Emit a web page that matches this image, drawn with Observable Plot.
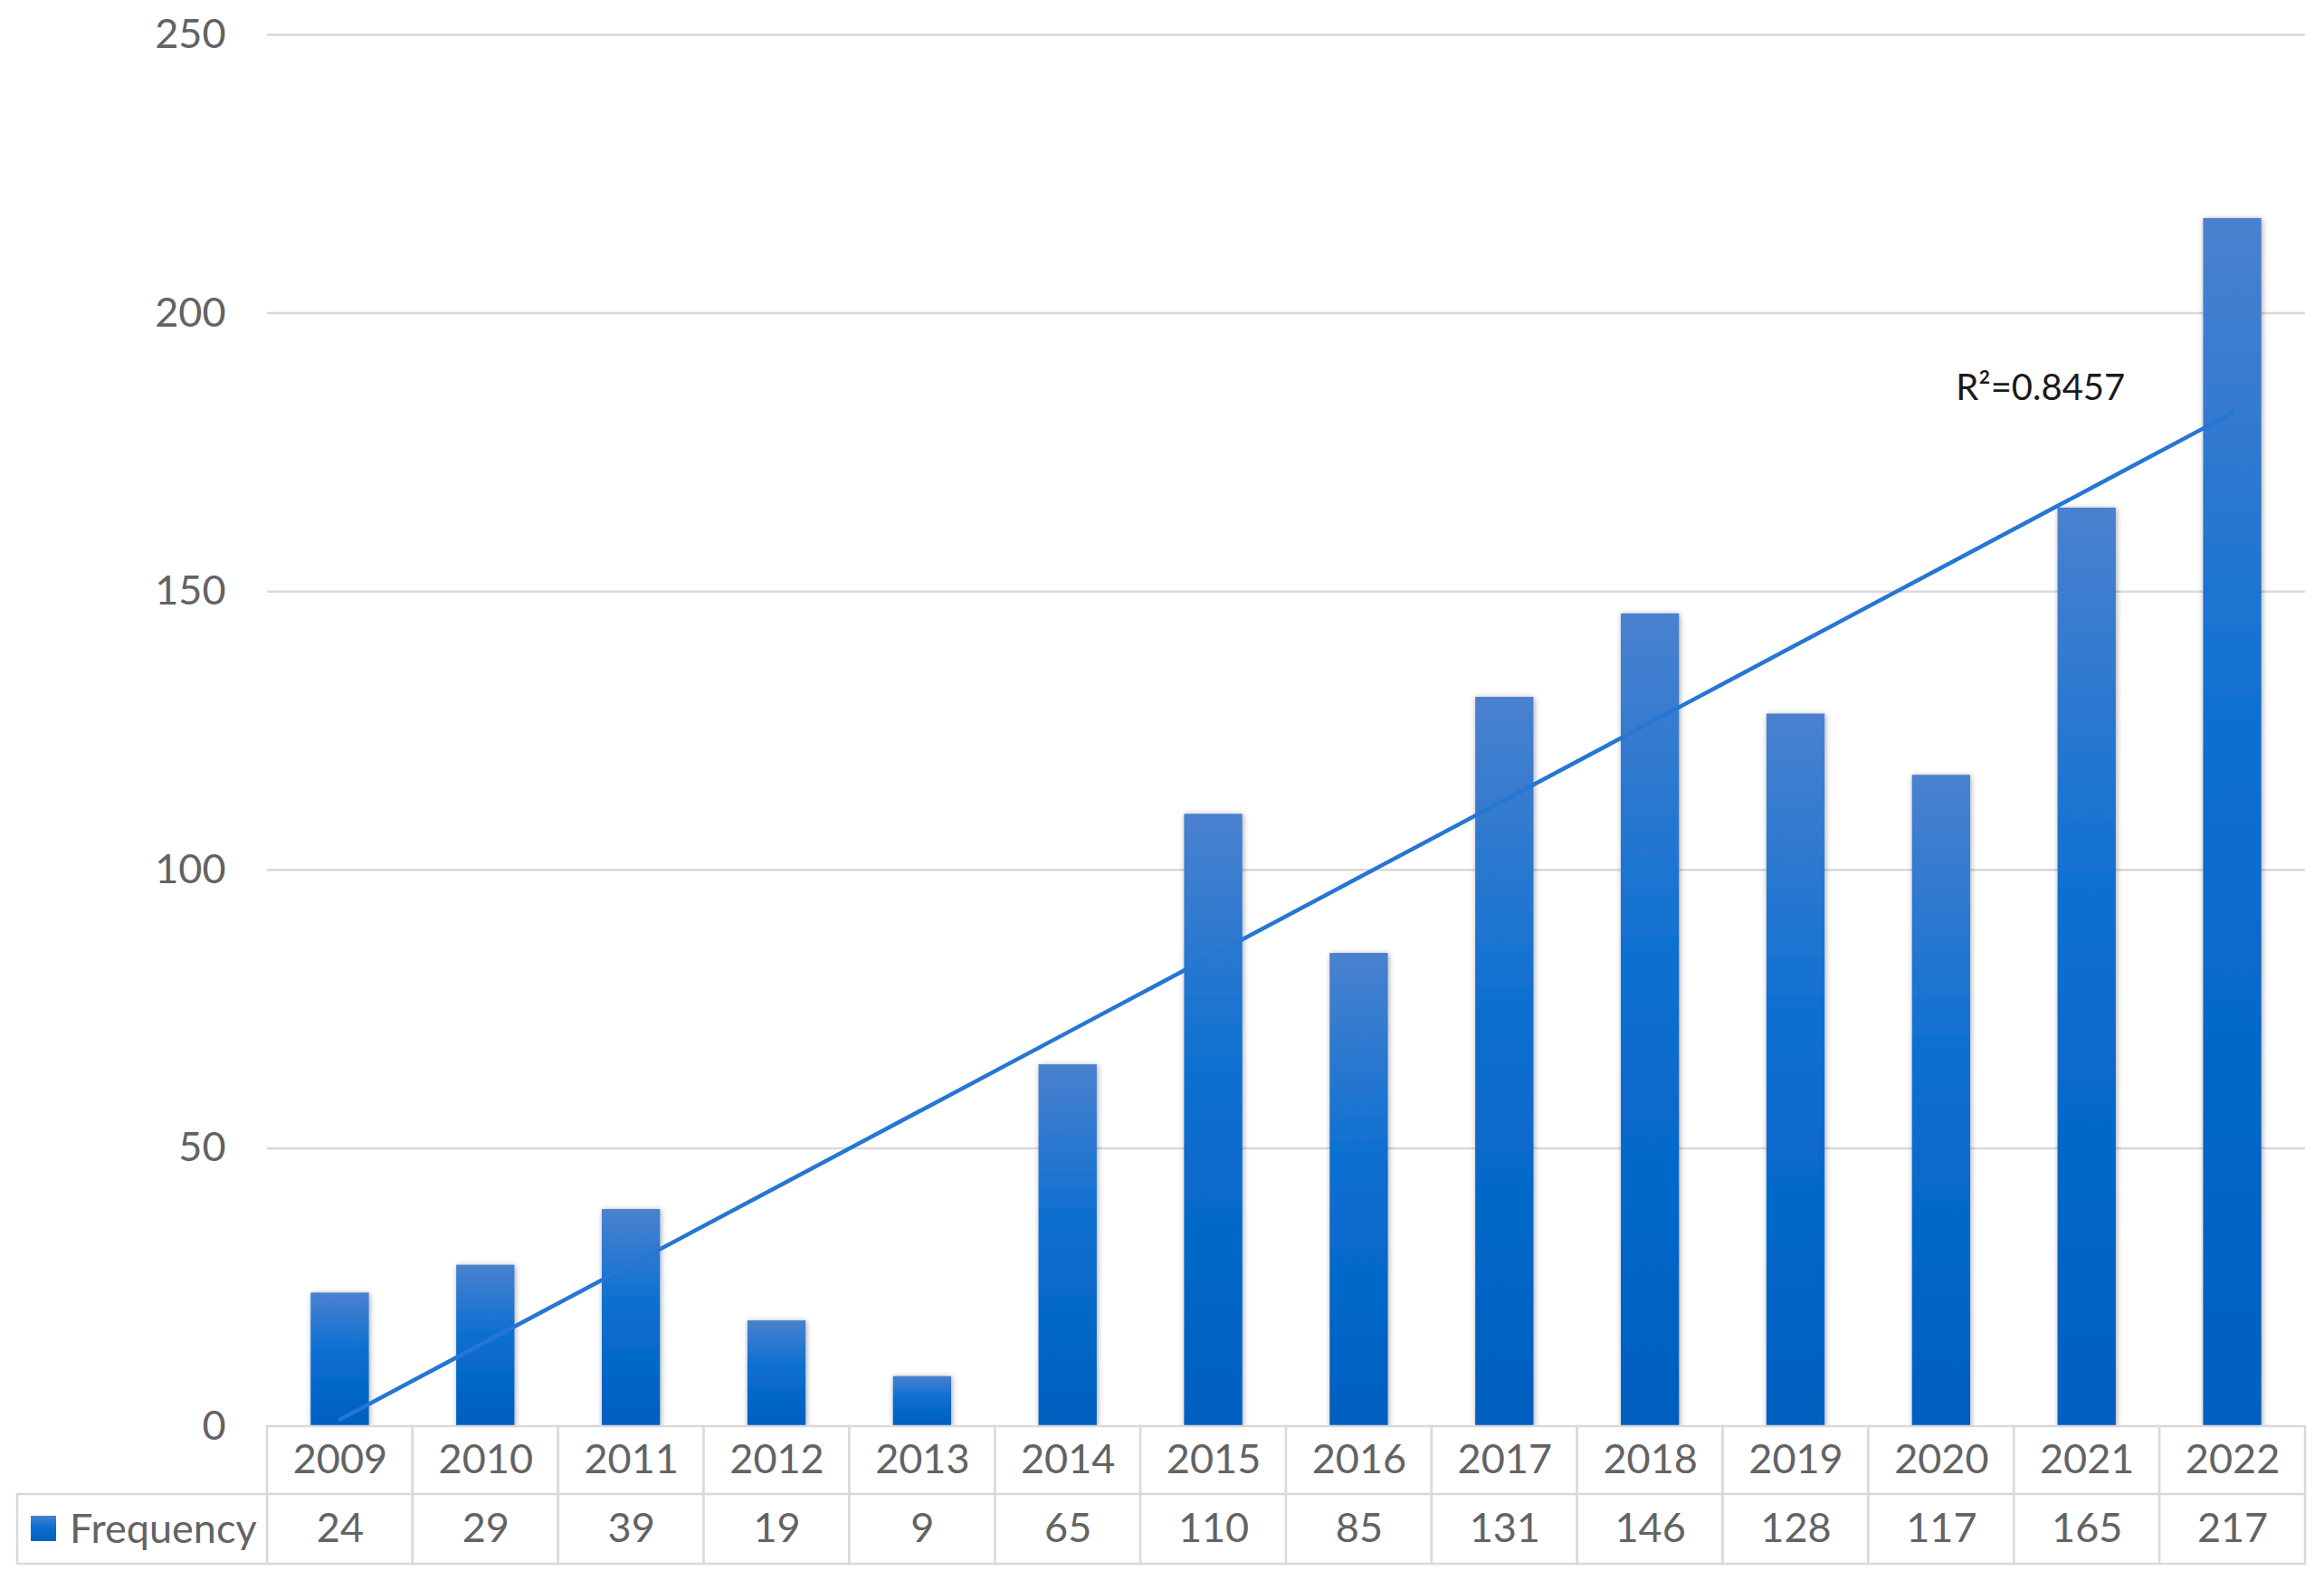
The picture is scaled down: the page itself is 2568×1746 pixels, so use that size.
<!DOCTYPE html>
<html>
<head>
<meta charset="utf-8">
<script src="https://cdn.jsdelivr.net/npm/d3@7"></script>
<script src="https://cdn.jsdelivr.net/npm/@observablehq/plot@0.6"></script>
<style>
  html, body { margin: 0; padding: 0; background: #fff; }
  #chart { width: 2568px; height: 1746px; }
</style>
</head>
<body>
<div id="chart"></div>
<script>
// ---- Data ----
const years = ["2009","2010","2011","2012","2013","2014","2015","2016","2017","2018","2019","2020","2021","2022"];
const frequency = [24, 29, 39, 19, 9, 65, 110, 85, 131, 146, 128, 117, 165, 217];
const yTicks = [0, 50, 100, 150, 200, 250];
const seriesName = "Frequency";
const r2Label = "R²=0.8457";

const data = years.map((year, i) => ({year, value: frequency[i], idx: i}));

// Linear (least-squares) trendline, as in the Excel chart
const mx = d3.mean(data, d => d.idx), my = d3.mean(data, d => d.value);
const slope = d3.sum(data, d => (d.idx - mx) * (d.value - my)) / d3.sum(data, d => (d.idx - mx) ** 2);
const intercept = my - slope * mx;
const trend = data.map(d => ({year: d.year, fit: intercept + slope * d.idx}));

// ---- Layout ----
const W = 2568, H = 1746;
const ML = 295, MR = 21, MT = 38, MB = 170;
const unitPx = (H - MT - MB) / 250;
const row1 = 75 / unitPx, row2 = 152 / unitPx;       // table rows, in y units below 0
const step = (W - ML - MR) / years.length;
const cellInset = -step * 0.3;
const FONT = "Lato, 'Open Sans', sans-serif";
const TEXT = "#636363";
const GRID = "#d9d9d9";

const chart = Plot.plot({
  width: W, height: H,
  marginLeft: ML, marginRight: MR, marginTop: MT, marginBottom: MB,
  style: {fontFamily: FONT, fontSize: "45px", color: TEXT, background: "#fff", overflow: "visible"},
  x: {domain: years, paddingInner: 0.6, paddingOuter: 0.3, round: false, axis: null},
  y: {domain: [0, 250], ticks: yTicks, tickSize: 0, tickPadding: 46, label: null, tickFormat: d => String(d)},
  marks: [
    Plot.ruleY(yTicks.filter(t => t > 0), {stroke: GRID, strokeWidth: 2.5}),
    Plot.barY(data, {x: "year", y: "value", fill: "url(#barGrad)"}),
    Plot.line(trend, {x: "year", y: "fit", stroke: "#2676d4", strokeWidth: 4.5}),
    Plot.text([r2Label], {x: () => "2021", y: () => 186.5, text: d => d, textAnchor: "start", dx: -145,
      fill: "#1a1a1a", fontSize: 40, fontFamily: FONT}),
    // data table below the chart
    Plot.barY(data, {x: "year", y1: -row1, y2: 0, fill: "#fff", stroke: GRID, strokeWidth: 2.5,
      insetLeft: cellInset, insetRight: cellInset}),
    Plot.barY(data, {x: "year", y1: -row2, y2: -row1, fill: "#fff", stroke: GRID, strokeWidth: 2.5,
      insetLeft: cellInset, insetRight: cellInset}),
    Plot.text(data, {x: "year", y: -row1 / 2, text: "year", fill: TEXT, fontSize: 45}),
    Plot.text(data, {x: "year", y: -(row1 + row2) / 2, text: d => String(d.value), fill: TEXT, fontSize: 45})
  ]
});

// gradient + shadow definitions
const svg = d3.select(chart);
const defs = svg.insert("defs", ":first-child");
const grad = defs.append("linearGradient").attr("id", "barGrad")
  .attr("x1", 0).attr("y1", 0).attr("x2", 0).attr("y2", 1);
grad.append("stop").attr("offset", "0%").attr("stop-color", "#4a81cf");
grad.append("stop").attr("offset", "45%").attr("stop-color", "#0a6fd1");
grad.append("stop").attr("offset", "100%").attr("stop-color", "#005fbf");
const f = defs.append("filter").attr("id", "barShadow").attr("x", "-20%").attr("y", "-5%").attr("width", "140%").attr("height", "110%");
f.append("feDropShadow").attr("dx", 1).attr("dy", 1).attr("stdDeviation", 3)
  .attr("flood-color", "#000").attr("flood-opacity", 0.35);
svg.select('g[aria-label="bar"]').attr("filter", "url(#barShadow)");

// legend cell of the data table
const legendY = H - MB + 75;
const lg = svg.append("g").attr("class", "table-legend");
lg.append("rect").attr("x", 19).attr("y", legendY).attr("width", ML - 19).attr("height", 77)
  .attr("fill", "#fff").attr("stroke", GRID).attr("stroke-width", 2.5);
lg.append("rect").attr("x", 34).attr("y", legendY + 24).attr("width", 28).attr("height", 28)
  .attr("fill", "url(#barGrad)");
lg.append("text").attr("x", 77).attr("y", legendY + 38.5).attr("dy", "0.35em")
  .attr("text-anchor", "start")
  .attr("fill", TEXT).attr("font-size", 45).attr("font-family", FONT).text(seriesName);

document.getElementById("chart").appendChild(chart);
</script>
</body>
</html>
